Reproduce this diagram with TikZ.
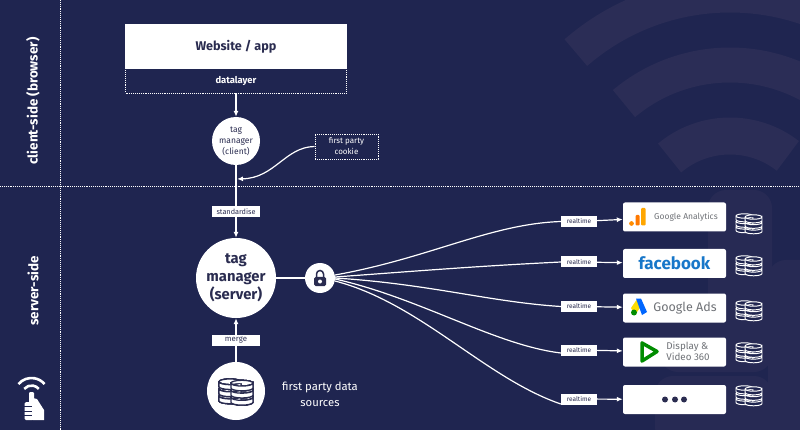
\documentclass[tikz,border=0pt]{standalone}
\usepackage{fontspec}
\setmainfont{Fira Sans}
\usetikzlibrary{arrows.meta}
\definecolor{bgblue}{HTML}{1F2550}
\definecolor{wmark}{HTML}{2B2D56}
\definecolor{wmarkhand}{HTML}{272A54}
\definecolor{inkdark}{HTML}{2A2C50}
\definecolor{logogrey}{HTML}{6F7277}
\definecolor{fbblue}{HTML}{1877C9}
\tikzset{
	link/.style={draw=white,line width=1.2},
	dotbox/.style={draw=white,densely dotted,line width=.9},
	tagbox/.style={fill=white,text=inkdark,font=\fontsize{7.3}{8}\selectfont,minimum height=11,inner sep=0},
	circ/.style={circle,fill=white,text=inkdark,align=center,inner sep=0},
	card/.style={fill=white,rounded corners=2,minimum width=103,minimum height=29,inner sep=0},
}
% stack of disks: x, y, size, line colour, fill colour
\newcommand{\dbicon}[5]{%
	\begin{scope}[shift={(#1,#2)},scale=#3,line width=#3*.075]
		\foreach \cx/\cy in {-.35/-.04,.35/.04}
		\foreach \k in {2,1,0}
		\filldraw[draw=#4,fill=#5] (\cx-.65,\cy-.5+.42*\k)--(\cx-.65,\cy-.22+.42*\k) arc[start angle=180,end angle=0,x radius=.65,y radius=.17]--(\cx+.65,\cy-.5+.42*\k) arc[start angle=0,end angle=360,x radius=.65,y radius=.17];
	\end{scope}}
\begin{document}
\begin{tikzpicture}[x=1pt,y=-1pt,>={Latex[length=6pt,width=5pt]}]
	\useasboundingbox (0,0) rectangle (800,430);
	\fill[bgblue] (0,0) rectangle (800,430);
	% watermark
	\draw[wmark,line width=37] (730,230)++(230:94) arc[start angle=230,end angle=308,radius=94];
	\draw[wmark,line width=35] (730,230)++(230:165) arc[start angle=230,end angle=310,radius=165];
	\draw[wmark,line width=35] (730,230)++(229:235) arc[start angle=229,end angle=310,radius=235];
	\fill[wmarkhand,rounded corners=18] (708,190) rectangle (772,320);
	\fill[wmarkhand,rounded corners=18] (660,298) rectangle (772,372);
	\fill[wmarkhand,rounded corners=18] (655,376) rectangle (772,445);
	\fill[wmarkhand,rounded corners=18] (768,260) rectangle (830,445);
	% zones
	\draw[dotbox] (60,0)--(60,430) (0,186)--(800,186);
	\node[rotate=90,text=white,font=\fontsize{13.4}{14}\selectfont\bfseries] (client) at (33,101) {client-side (browser)};
	\node[rotate=90,text=white,font=\fontsize{13.4}{14}\selectfont\bfseries] (server) at (33,291) {server-side};
	% browser part
	\node[fill=white,text=inkdark,minimum width=222,minimum height=44.5,inner sep=0,font=\fontsize{12.6}{14}\selectfont\bfseries] (site) at (236,46.5) {Website / app};
	\node[dotbox,minimum width=221,minimum height=25,inner sep=0,text=white,font=\fontsize{9.4}{10}\selectfont\bfseries] (dlayer) at (236,80.5) {datalayer};
	\node[circ,minimum size=48,font=\fontsize{8.5}{11}\selectfont] (tmclient) at (236,141) {tag\\manager\\(client)};
	\node[dotbox,minimum width=63,minimum height=25,inner sep=0,align=center,text=white,font=\fontsize{8}{11}\selectfont] (cookie) at (346.5,146.5) {first party\\cookie};
	\draw[link,->] (dlayer)--(tmclient);
	% server part
	\node[circ,minimum size=80,font=\fontsize{14.8}{18}\selectfont\bfseries] (tmserver) at (236,278) {tag\\manager\\(server)};
	\node[circ,minimum size=30] (lock) at (320,278) {};
	\node[circ,minimum size=58] (source) at (236,391) {};
	\node[text=white,align=center,font=\fontsize{11.3}{16}\selectfont] (sourcetext) at (320,394) {first party data\\sources};
	\draw[link,->] (tmclient)--(tmserver);
	\coordinate (cookiein) at (237,179);
	\draw[link,->] (cookie.west) .. controls (285,147) and (275,178) .. (cookiein);
	\node[tagbox,minimum width=48] (std) at (236,212) {standardise};
	\draw[link,->] (source)--(tmserver);
	\node[tagbox,minimum width=48,font=\fontsize{7.8}{8}\selectfont] (merge) at (236,340) {merge};
	\draw[link,line width=2] (tmserver)--(lock);
	% lock
	\draw[inkdark,line width=1.5] (316.5,277)--(316.5,274) arc[start angle=180,end angle=360,radius=3.5]--(323.5,277);
	\fill[inkdark,rounded corners=1.5] (314,277) rectangle (326,286);
	\fill[white] (320,281.5) circle (2);
	% destinations
	\foreach \i/\y in {1/217,2/263.5,3/308,4/352,5/399.5}
	\node[card] (dest\i) at (674.5,\y) {};
	\foreach \i/\y in {1/221.5,2/262,3/306.5,4/350,5/399}
	{\node[tagbox,minimum width=36,font=\fontsize{6.5}{7}\selectfont] (rt\i) at (579,\y) {realtime};
	\draw[link,->] (rt\i)--(dest\i);}
	\draw[link] (lock) ++(15,-3) .. controls (430,258) and (490,224) .. (rt1.west);
	\draw[link] (lock) ++(15,-1) .. controls (430,270) and (480,266) .. (rt2.west);
	\draw[link] (lock) ++(15,0) .. controls (430,284) and (490,302) .. (rt3.west);
	\draw[link] (lock) ++(15,1) .. controls (420,298) and (495,345) .. ([yshift=-3]rt4.west);
	\draw[link] (lock) ++(15,3) .. controls (420,303) and (485,378) .. ([yshift=-5]rt5.west);
	\foreach \x/\y in {749/223,749/265,749/310,749/352,749/395}
	\dbicon{\x}{\y}{13}{white}{bgblue}
	\dbicon{236}{391}{17}{inkdark}{white}
	% Google Analytics
	\fill[orange!90!yellow] (631.5,223.5) circle (2);
	\fill[orange!95!red,rounded corners=1] (635.5,215) rectangle (639.5,225.5);
	\fill[orange!70!yellow,rounded corners=1] (641,208) rectangle (645.5,225.5);
	\node[text=logogrey,font=\fontsize{8.5}{10}\selectfont] (galabel) at (686,217) {Google Analytics};
	% facebook
	\node[text=fbblue,font=\fontsize{17}{18}\selectfont\bfseries] (fblabel) at (674.5,263) {facebook};
	% Google Ads
	\fill[yellow!80!orange] (631,308)--(636.5,300)--(640.5,307)--(635,315) -- cycle;
	\fill[blue!60!cyan] (636,298.5)--(641,298.5)--(647,312)--(642,315) -- cycle;
	\fill[green!55!black] (634,312.5) circle (3);
	\node[text=logogrey,font=\fontsize{12.5}{14}\selectfont] (adslabel) at (685,308) {Google Ads};
	% Display & Video 360
	\draw[green!55!black,line width=3.5,line join=round] (642,343)--(657,351.5)--(642,361)--cycle;
	\node[text=logogrey,align=left,font=\fontsize{9.8}{11}\selectfont] (dvlabel) at (688,351.5) {Display \&\\Video 360};
	% other
	\foreach \x in {665,675,684}
	\fill[inkdark] (\x,399.5) circle (3);
	% corner logo
	\foreach \r in {9.5,17}
	\draw[white,line width=2.6] (31.5,395)++(220:\r) arc[start angle=220,end angle=320,radius=\r];
	\fill[white,rounded corners=1] (29,392) rectangle (34,404);
	\fill[white,rounded corners=1.5] (24.5,402) rectangle (34,420);
	\fill[white] (33,398)--(37,399)--(44,410)--(44,420)--(33,420)--cycle;
	\foreach \y in {406.5,411,415.5}
	\draw[bgblue,line width=.8] (24,\y)--(32,\y);
\end{tikzpicture}
\end{document}
